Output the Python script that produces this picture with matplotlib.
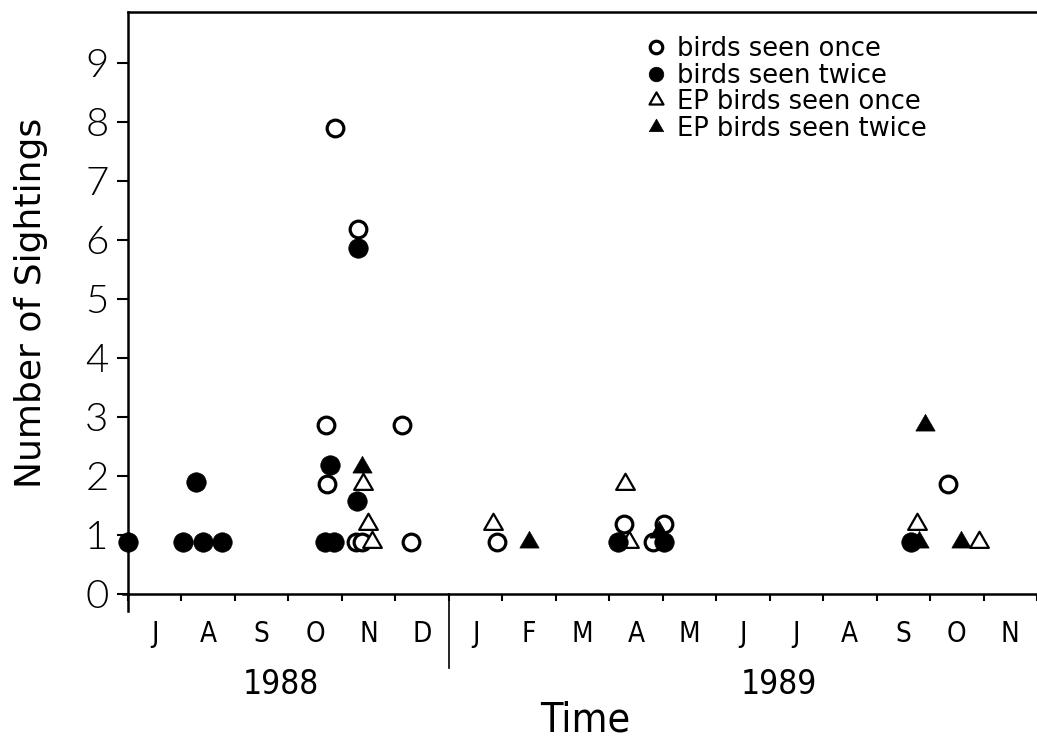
import matplotlib
matplotlib.use("Agg")
import matplotlib.pyplot as plt
from matplotlib.path import Path
import numpy as np

# ---- data (x = months since 1 July 1988, y = number of sightings) ----
once_x = [3.71, 3.73, 3.88, 4.30, 4.27, 4.38, 5.12, 5.29, 6.90, 9.28, 9.81, 10.02, 15.34]
once_y = [2.86, 1.87, 7.89, 6.19, 0.88, 0.88, 2.86, 0.88, 0.88, 1.19, 0.88, 1.19, 1.87]

twice_x = [0.0, 1.02, 1.28, 1.41, 1.76, 3.69, 3.86, 3.77, 4.29, 4.30, 9.17, 10.02, 14.64]
twice_y = [0.88, 0.88, 1.89, 0.88, 0.88, 0.88, 0.88, 2.19, 1.57, 5.87, 0.88, 0.88, 0.88]

ep_once_x = [4.40, 4.49, 4.56, 6.83, 9.30, 9.37, 14.75, 15.92]
ep_once_y = [1.87, 1.19, 0.88, 1.19, 1.87, 0.88, 1.19, 0.88]

ep_twice_x = [4.38, 7.50, 9.93, 14.79, 14.90, 15.58]
ep_twice_y = [2.15, 0.88, 1.05, 0.88, 2.86, 0.88]

month_labels = ["J", "A", "S", "O", "N", "D", "J", "F", "M", "A", "M", "J", "J", "A", "S", "O", "N"]
year_labels = ["1988", "1989"]
year_centers = [2.85, 12.18]
year_break = 6
y_ticks = list(range(10))

series_labels = ["birds seen once", "birds seen twice", "EP birds seen once", "EP birds seen twice"]

# ---- figure ----
W, H, DPI = 1037, 747, 100
fig = plt.figure(figsize=(W / DPI, H / DPI), dpi=DPI)
ax = fig.add_axes([128 / W, 1 - 594 / H, 1 - 128 / W, (594 - 12) / H])

tri = Path([(-1, -0.577), (1, -0.577), (0, 1.155), (-1, -0.577)],
           [Path.MOVETO, Path.LINETO, Path.LINETO, Path.CLOSEPOLY])

h1, = ax.plot(once_x, once_y, ls="none", marker="o", ms=12, mfc="white", mec="black", mew=2.3, zorder=3)
h3, = ax.plot(ep_once_x, ep_once_y, ls="none", marker=tri, ms=15.5, mfc="white", mec="black", mew=1.6, zorder=3)
h2, = ax.plot(twice_x, twice_y, ls="none", marker="o", ms=14, mfc="black", mec="black", mew=0.5, zorder=4, clip_on=False)
h4, = ax.plot(ep_twice_x, ep_twice_y, ls="none", marker=tri, ms=16, mfc="black", mec="black", mew=0.5, zorder=4)

ax.set_xlim(0, 16.9)
ax.set_ylim(0, 9.86)

# spines
for s in ["left", "bottom", "top"]:
    ax.spines[s].set_linewidth(1.8)
ax.spines["right"].set_visible(False)

narrow = ["Liberation Sans Narrow", "DejaVu Sans"]

# y axis
ax.set_yticks(y_ticks)
ax.set_yticklabels([str(v) for v in y_ticks], family=["Lato", "DejaVu Sans"], fontweight=300, fontsize=29)
ax.tick_params(axis="y", direction="out", length=8, width=1.5, pad=6)
ax.set_ylabel("Number of Sightings", fontsize=26, family="DejaVu Sans")
ax.yaxis.set_label_coords(-0.088, 0.5)

# x axis: month boundaries as ticks, labels centred in months
ax.set_xticks(np.arange(0, len(month_labels) + 1))
ax.set_xticklabels([])
ax.set_xticks(np.arange(len(month_labels)) + 0.5, minor=True)
ax.set_xticklabels(month_labels, minor=True, family=narrow, fontstretch="condensed", fontsize=20)
ax.tick_params(axis="x", which="major", direction="out", length=5, width=1.5)
ax.tick_params(axis="x", which="minor", length=0, pad=19)

# year separator and year labels
ax.plot([year_break, year_break], [0, -1.25], color="black", lw=1.2, clip_on=False)
ax.plot([0, 0], [0, -0.28], color="black", lw=1.8, clip_on=False)
ax.plot([-0.1, 0], [0, 0], color="black", lw=1.8, clip_on=False)
for xc, lab in zip(year_centers, year_labels):
    ax.text(xc, -1.53, lab, ha="center", va="center", fontsize=24,
            family=narrow, fontstretch="condensed")
ax.text(8.55, -2.15, "Time", ha="center", va="center", fontsize=29.5,
        family=narrow, fontstretch="condensed")

leg = ax.legend([h1, h2, h3, h4], series_labels, loc="upper left",
                bbox_to_anchor=(0.555, 0.985), frameon=False, markerscale=0.75,
                handlelength=0.6, handletextpad=0.55, labelspacing=0.02,
                borderaxespad=0.2, prop={"family": "DejaVu Sans", "size": 18.5})

fig.savefig("out.png", dpi=DPI)
